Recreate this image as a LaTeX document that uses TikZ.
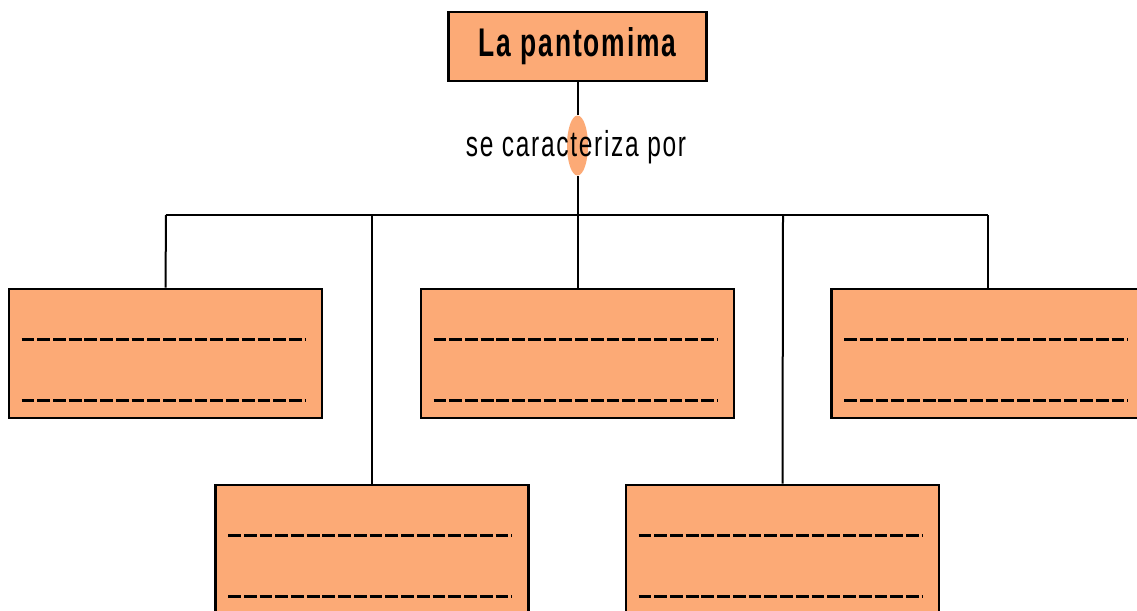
\documentclass[tikz,border=0pt]{standalone}
\usepackage{fontspec}
\setmainfont{Liberation Sans}
\newfontfamily\rotulo[LetterSpace=7]{Liberation Sans}
\usetikzlibrary{calc,shapes.geometric}
\definecolor{pantoorange}{RGB}{252,170,118}
\tikzset{
  rubro/.style={draw=black, fill=pantoorange, line width=2.2pt, minimum width=234.75pt, minimum height=96.75pt, inner sep=0pt},
  titulo/.style={draw=black, fill=pantoorange, line width=2.2pt, minimum width=193.5pt, minimum height=51.75pt, inner sep=0pt},
  enlace/.style={line width=1.5pt, black},
  hueco/.style={line width=2.8pt, black, dash pattern=on 9.6pt off 2.2pt}
}
\begin{document}
\begin{tikzpicture}[x=0.75pt,y=0.75pt,yscale=-1,xscale=1]
		\useasboundingbox (0,0) rectangle (1137,610);

		% Title box
		\node [titulo] (tit) at (577.5,46.5) {\raisebox{-2.5pt}{\scalebox{0.66}[1]{\rotulo\fontsize{30pt}{32pt}\selectfont\bfseries La pantomima}}};
		% Link ellipse
		\node [ellipse, fill=pantoorange, minimum width=15.75pt, minimum height=45pt, inner sep=0pt] (elip) at (577.5,145.5) {};
		% Joints of the bar
		\coordinate (junta) at (577.5,215);
		\coordinate (barA) at (166,215);
		\coordinate (barB) at (372,215);
		\coordinate (barD) at (783,215);
		\coordinate (barE) at (988,215);

		% Answer boxes, top row
		\node [rubro] (rA) at (165.5,353.5) {};
		\node [rubro] (rC) at (577.5,353.5) {};
		\node [rubro] (rE) at (988,353.5) {};
		% Answer boxes, bottom row
		\node [rubro] (rB) at (372,549.5) {};
		\node [rubro] (rD) at (782.5,549.5) {};

		%Straight Lines
		\draw [enlace] (tit.south) -- (elip.north);
		\draw [enlace] (elip.south) -- (junta);
		\draw [enlace] (barA) -- (barE);
		\draw [enlace] (barA) -- (rA.north);
		\draw [enlace] (barB) -- (rB.north);
		\draw [enlace] (junta) -- (rC.north);
		\draw [enlace] (barD) -- (rD.north);
		\draw [enlace] (barE) -- (rE.north);

		% Text Node
		\node [inner sep=0pt] (lema) at (576,147) {\scalebox{0.68}[1]{\rotulo\fontsize{27pt}{30pt}\selectfont se caracteriza por}};

		% Blank lines to fill in
		\foreach \r in {rA,rB,rC,rD,rE} {
			\draw [hueco] ($(\r.north west)+(14,52)$) -- ($(\r.north east)+(-18,52)$);
			\draw [hueco] ($(\r.north west)+(14,113)$) -- ($(\r.north east)+(-18,113)$);
		}
\end{tikzpicture}
\end{document}
